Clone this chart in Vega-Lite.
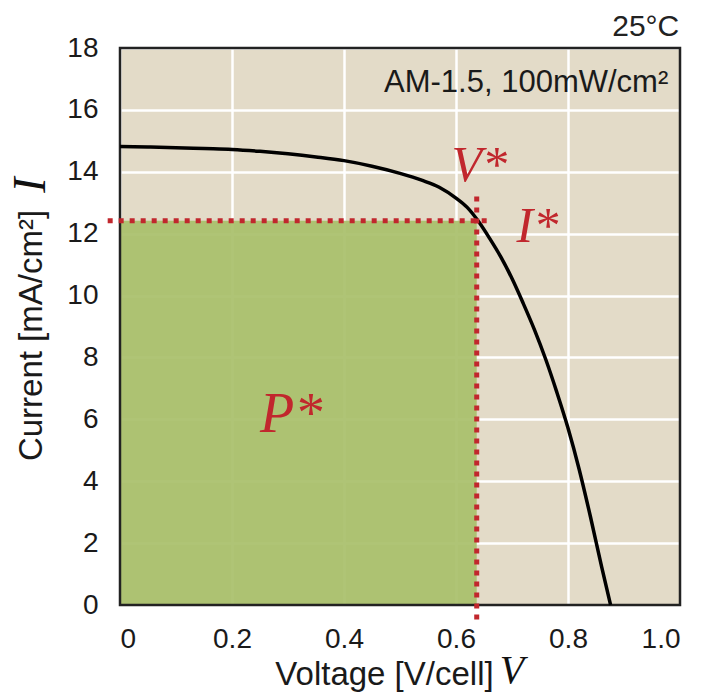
{
  "$schema": "https://vega.github.io/schema/vega-lite/v6.json",
  "autosize": {"type": "none"},
  "width": 560,
  "height": 557,
  "padding": {"left": 120, "top": 48, "right": 22, "bottom": 88},
  "background": "white",
  "title": {"text": "25°C", "anchor": "end", "font": "Liberation Sans", "fontSize": 30, "fontWeight": "normal", "color": "#222", "offset": 0, "dy": 8, "dx": -2},
  "config": {
    "view": {"fill": "#e3dbc8", "stroke": null},
    "axis": {"labelFont": "Liberation Sans", "titleFont": "Liberation Sans", "labelFontSize": 28, "titleFontSize": 33, "titleFontWeight": "normal", "labelColor": "#1a1a1a", "titleColor": "#1a1a1a", "domain": false, "ticks": false, "gridColor": "white", "gridWidth": 2.5, "gridOpacity": 1}
  },
  "datasets": {
    "curve": [
      {"V": 0, "I": 14.82}, {"V": 0.05, "I": 14.8}, {"V": 0.1, "I": 14.78}, {"V": 0.15, "I": 14.75},
      {"V": 0.2, "I": 14.72}, {"V": 0.25, "I": 14.66}, {"V": 0.3, "I": 14.58}, {"V": 0.35, "I": 14.48},
      {"V": 0.4, "I": 14.36}, {"V": 0.45, "I": 14.18}, {"V": 0.5, "I": 13.95}, {"V": 0.54, "I": 13.72},
      {"V": 0.57, "I": 13.5}, {"V": 0.6, "I": 13.15}, {"V": 0.62, "I": 12.85}, {"V": 0.64, "I": 12.4},
      {"V": 0.66, "I": 11.85}, {"V": 0.68, "I": 11.25}, {"V": 0.7, "I": 10.55}, {"V": 0.72, "I": 9.75},
      {"V": 0.74, "I": 8.9}, {"V": 0.76, "I": 7.95}, {"V": 0.78, "I": 6.88}, {"V": 0.8, "I": 5.72},
      {"V": 0.82, "I": 4.38}, {"V": 0.84, "I": 2.86}, {"V": 0.86, "I": 1.24}, {"V": 0.876, "I": 0}
    ]
  },
  "layer": [
    {
      "data": {"values": [{"V": 0, "V2": 0.637, "I": 0, "I2": 12.42}]},
      "mark": {"type": "rect", "fill": "#a9c06c", "opacity": 0.93},
      "encoding": {
        "x": {"field": "V", "type": "quantitative", "scale": {"domain": [0, 1]},
              "axis": {"values": [0, 0.2, 0.4, 0.6, 0.8, 1.0], "labelExpr": "datum.value == 0 ? '0' : format(datum.value, '.1f')", "labelPadding": 20, "title": "Voltage [V/cell]", "titleX": 264, "titleY": 53}},
        "x2": {"field": "V2"},
        "y": {"field": "I", "type": "quantitative", "scale": {"domain": [0, 18]},
              "axis": {"values": [0, 2, 4, 6, 8, 10, 12, 14, 16, 18], "labelPadding": 22, "title": "Current [mA/cm²]", "titleX": -72, "titleY": 287}},
        "y2": {"field": "I2"}
      }
    },
    {
      "data": {"values": [{"V": 0, "V2": 1, "I": 0, "I2": 18}]},
      "mark": {"type": "rect", "fill": null, "stroke": "#222", "strokeWidth": 2.5},
      "encoding": {"x": {"field": "V", "type": "quantitative"}, "x2": {"field": "V2"}, "y": {"field": "I", "type": "quantitative"}, "y2": {"field": "I2"}}
    },
    {
      "data": {"name": "curve"},
      "mark": {"type": "line", "color": "black", "strokeWidth": 3.5, "interpolate": "monotone"},
      "encoding": {"x": {"field": "V", "type": "quantitative"}, "y": {"field": "I", "type": "quantitative"}}
    },
    {
      "data": {"values": [{"V": -0.022, "V2": 0.665, "I": 12.42}]},
      "mark": {"type": "rule", "color": "#c1272d", "strokeWidth": 5, "strokeDash": [5, 6]},
      "encoding": {"x": {"field": "V", "type": "quantitative"}, "x2": {"field": "V2"}, "y": {"field": "I", "type": "quantitative"}}
    },
    {
      "data": {"values": [{"V": 0.637, "I": 13.2, "I2": -0.65}]},
      "mark": {"type": "rule", "color": "#c1272d", "strokeWidth": 5, "strokeDash": [5, 6]},
      "encoding": {"x": {"field": "V", "type": "quantitative"}, "y": {"field": "I", "type": "quantitative"}, "y2": {"field": "I2"}}
    },
    {
      "data": {"values": [
        {"V": 0.592, "I": 13.7, "label": "V*", "size": 50},
        {"V": 0.708, "I": 11.73, "label": "I*", "size": 50},
        {"V": 0.25, "I": 5.59, "label": "P*", "size": 56}
      ]},
      "mark": {"type": "text", "font": "Liberation Serif", "fontStyle": "italic", "color": "#c1272d", "align": "left", "baseline": "alphabetic"},
      "encoding": {"x": {"field": "V", "type": "quantitative"}, "y": {"field": "I", "type": "quantitative"}, "text": {"field": "label"}, "size": {"field": "size", "type": "quantitative", "scale": null}}
    },
    {
      "data": {"values": [{"V": 0.979, "I": 16.58, "label": "AM-1.5, 100mW/cm²"}]},
      "mark": {"type": "text", "font": "Liberation Sans", "fontSize": 31, "color": "#1a1a1a", "align": "right", "baseline": "alphabetic"},
      "encoding": {"x": {"field": "V", "type": "quantitative"}, "y": {"field": "I", "type": "quantitative"}, "text": {"field": "label"}}
    },
    {
      "data": {"values": [{"V": -0.159, "I": 13.57, "label": "I"}]},
      "mark": {"type": "text", "font": "Liberation Serif", "fontStyle": "italic", "fontSize": 46, "color": "#111", "align": "center", "baseline": "middle", "angle": 270},
      "encoding": {"x": {"field": "V", "type": "quantitative"}, "y": {"field": "I", "type": "quantitative"}, "text": {"field": "label"}}
    },
    {
      "data": {"values": [{"V": 0.678, "I": -2.52, "label": "V"}]},
      "mark": {"type": "text", "font": "Liberation Serif", "fontStyle": "italic", "fontSize": 40, "color": "#111", "align": "left", "baseline": "alphabetic"},
      "encoding": {"x": {"field": "V", "type": "quantitative"}, "y": {"field": "I", "type": "quantitative"}, "text": {"field": "label"}}
    }
  ]
}
